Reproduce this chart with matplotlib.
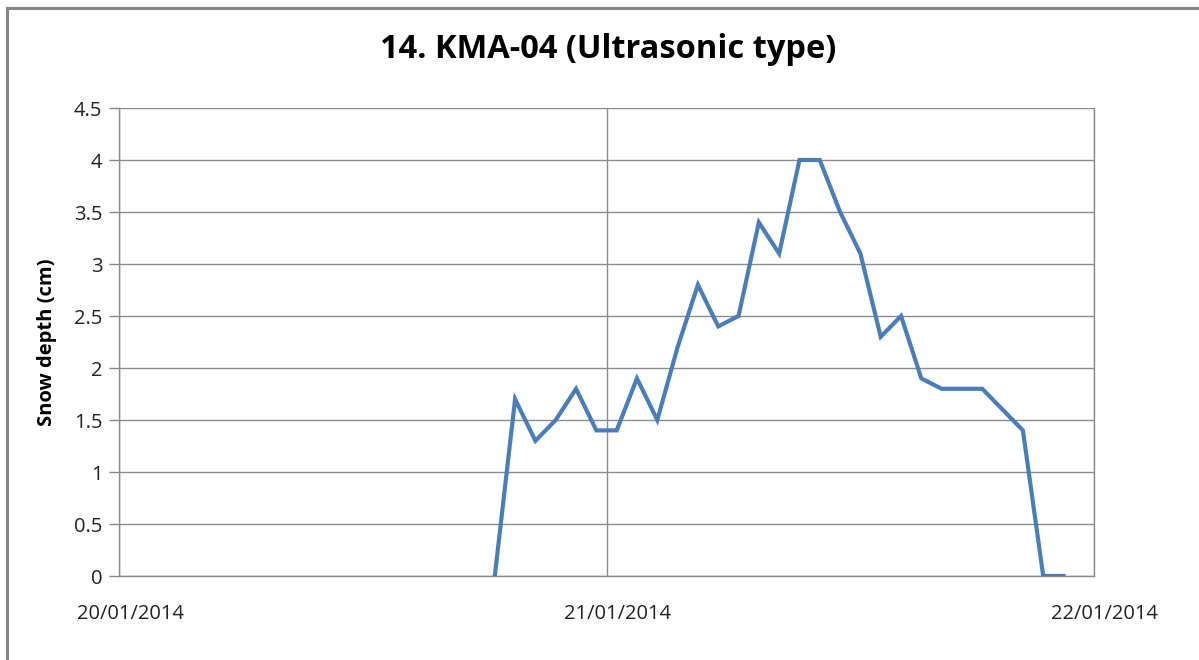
import numpy as np
import pandas as pd
import matplotlib
matplotlib.use("Agg")
import matplotlib.pyplot as plt
import matplotlib.patches as patches
import matplotlib.transforms as mtransforms

# Hourly snow depth readings (cm), starting 20/01/2014 18:30
start_time = "2014-01-20 18:30"
snow_depth = [0, 1.7, 1.3, 1.5, 1.8, 1.4, 1.4, 1.9, 1.5, 2.2,
              2.8, 2.4, 2.5, 3.4, 3.1, 4.0, 4.0, 3.5, 3.1, 2.3,
              2.5, 1.9, 1.8, 1.8, 1.8, 1.6, 1.4, 0, 0]
day_ticks = ["2014-01-20", "2014-01-21", "2014-01-22"]
y_ticks = [0, 0.5, 1, 1.5, 2, 2.5, 3, 3.5, 4, 4.5]
y_labels = ["0", "0.5", "1", "1.5", "2", "2.5", "3", "3.5", "4", "4.5"]

times = pd.date_range(start_time, periods=len(snow_depth), freq="h")
days = pd.to_datetime(day_ticks)

plt.rcParams['font.family'] = ['Open Sans', 'DejaVu Sans']

fig = plt.figure(figsize=(11.99, 6.6), dpi=100)
ax = fig.add_axes([119/1199, 84/660, 975/1199, 468/660])

# Cadre gris autour du graphique
fig.patches.append(patches.Rectangle((7/1199, -0.1), 1.2, 652/660 + 0.1,
                                     transform=fig.transFigure, fill=False,
                                     edgecolor='#868686', lw=2.2, zorder=0))

ax.plot(times, snow_depth, color='#4a7ebb', lw=3, solid_joinstyle='miter', zorder=3)

ax.set_xlim(days[0], days[-1])
ax.set_ylim(0, 4.5)
ax.set_xticks(days)
ax.set_xticklabels([d.strftime("%d/%m/%Y") for d in days], fontsize=14.5, color='#222222')
ax.set_yticks(y_ticks)
ax.set_yticklabels(y_labels, fontsize=14.5, color='#222222')

ax.tick_params(axis='x', length=0, pad=20)
ax.tick_params(axis='y', length=7, width=1, color='#868686', pad=5)

# decalage des etiquettes de date vers la droite (apres tick_params)
offset = mtransforms.ScaledTranslation(11/100, 0, fig.dpi_scale_trans)
for lbl in ax.get_xticklabels():
    lbl.set_transform(lbl.get_transform() + offset)

ax.grid(axis='y', color='#8c8c8c', lw=1)
ax.grid(axis='x', color='#8c8c8c', lw=1)
ax.set_axisbelow(True)
for side in ['left', 'right', 'bottom']:
    ax.spines[side].set_color('#8c8c8c')
    ax.spines[side].set_linewidth(1)
ax.spines['top'].set_visible(False)

ax.set_ylabel("Snow depth (cm)", fontsize=14.5, fontweight='bold', labelpad=12)
fig.text(608/1199, 1 - 50/660, "14. KMA-04 (Ultrasonic type)", ha='center', va='center',
         fontsize=23.5, fontweight='bold')

fig.savefig("out.png", dpi=100)
